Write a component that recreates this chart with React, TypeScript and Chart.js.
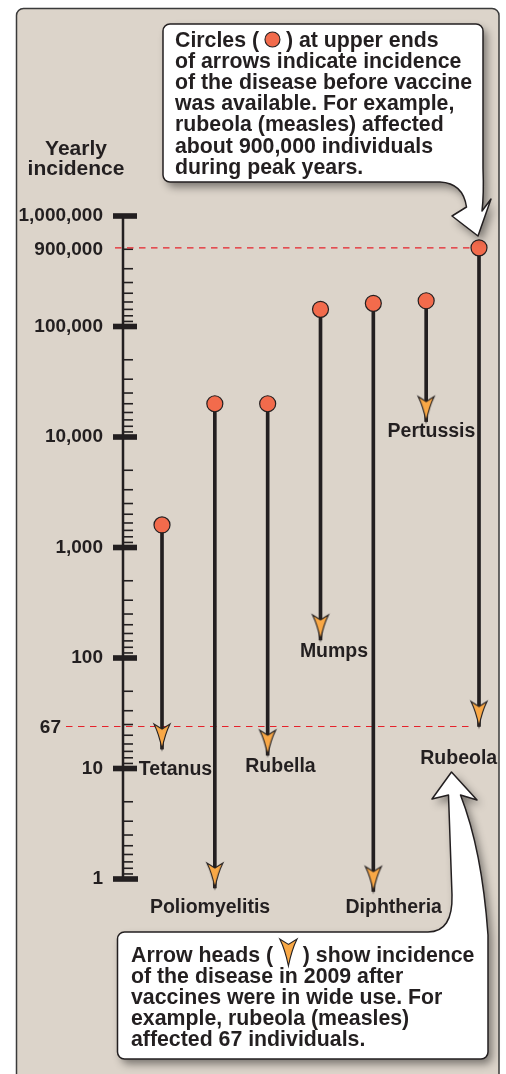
import React, { useEffect, useRef } from 'react';
import { Chart, registerables } from 'chart.js';

Chart.register(...registerables);

// ---------------- data ----------------
const diseases = ['Tetanus', 'Poliomyelitis', 'Rubella', 'Mumps', 'Diphtheria', 'Pertussis', 'Rubeola'];
const beforeVaccine = [1600, 20000, 20000, 143000, 162000, 171000, 515000];
const in2009 = [15, 0.83, 13.2, 146, 0.77, 13800, 24];
const majorTickValues = [1, 10, 100, 1000, 10000, 100000, 1000000];
const majorTickLabels = ['1', '10', '100', '1,000', '10,000', '100,000', '1,000,000'];
const minorTickDivisors = [2, 3, 4, 5, 6, 7, 8, 9];
const rubeolaMarkLabels = ['900,000', '67'];
const axisTitleLines = ['Yearly', 'incidence'];
const topNoteFirst = ['Circles (', ') at upper ends'];
const topNoteLines = [
  'of arrows indicate incidence',
  'of the disease before vaccine',
  'was available. For example,',
  'rubeola (measles) affected',
  'about 900,000 individuals',
  'during peak years.',
];
const bottomNoteFirst = ['Arrow heads (', ') show incidence'];
const bottomNoteLines = [
  'of the disease in 2009 after',
  'vaccines were in wide use. For',
  'example, rubeola (measles)',
  'affected 67 individuals.',
];

// ---------------- layout / style ----------------
const W = 506;
const H = 1074;
const Y_MIN = 0.5;
const Y_MAX = 1.5e6;
const PX_ONE = 879;
const PX_DECADE = 110.5;
const PAD_TOP = PX_ONE - Math.log10(Y_MAX) * PX_DECADE;
const PAD_BOTTOM = H - (PX_ONE - Math.log10(Y_MIN) * PX_DECADE);
const AXIS_X = 123;
const labelOffsets = [
  [13.5, 26],
  [-4.8, 24.8],
  [12.8, 16.5],
  [13.5, 16.7],
  [20.4, 21.2],
  [5.3, 15],
  [-20.3, 37.8],
];
const FONT = '"Liberation Sans", Arial, Helvetica, sans-serif';
const INK = '#231f20';
const PANEL = '#dcd4ca';
const CIRCLE = '#f26b4c';
const ARROW = '#f9a846';
const RED = '#e5222b';

function arrowHeadPath(ctx: any, x: number, tipY: number, s: number) {
  ctx.beginPath();
  ctx.moveTo(x, tipY - 20 * s);
  ctx.lineTo(x - 8 * s, tipY - 25 * s);
  ctx.quadraticCurveTo(x - 3 * s, tipY - 15 * s, x, tipY);
  ctx.quadraticCurveTo(x + 3 * s, tipY - 15 * s, x + 8 * s, tipY - 25 * s);
  ctx.closePath();
}

function makeArrowImage() {
  const c = document.createElement('canvas');
  c.width = 24;
  c.height = 64;
  const g = c.getContext('2d') as any;
  arrowHeadPath(g, 12, 32, 1);
  g.fillStyle = ARROW;
  g.fill();
  g.lineWidth = 1.1;
  g.lineJoin = 'miter';
  g.strokeStyle = INK;
  g.stroke();
  return c;
}

function topCalloutPath(ctx: any) {
  const L = 163, T = 24, R = 483, B = 182, r = 7;
  ctx.beginPath();
  ctx.moveTo(L + r, T);
  ctx.lineTo(R - r, T);
  ctx.arcTo(R, T, R, T + r, r);
  ctx.lineTo(R, 168);
  ctx.quadraticCurveTo(484, 195, 482, 211);
  ctx.lineTo(491, 199);
  ctx.lineTo(478, 236);
  ctx.lineTo(452, 216);
  ctx.lineTo(466.5, 207);
  ctx.quadraticCurveTo(463, 183, 440, B);
  ctx.lineTo(L + r, B);
  ctx.arcTo(L, B, L, B - r, r);
  ctx.lineTo(L, T + r);
  ctx.arcTo(L, T, L + r, T, r);
  ctx.closePath();
}

function bottomCalloutPath(ctx: any) {
  const L = 117.5, T = 932, R = 488, B = 1059, r = 7;
  ctx.beginPath();
  ctx.moveTo(L + r, T);
  ctx.lineTo(428, T);
  ctx.quadraticCurveTo(453, T, 452, 895);
  ctx.lineTo(448.5, 795);
  ctx.lineTo(432, 799);
  ctx.lineTo(451.5, 772);
  ctx.lineTo(477, 800);
  ctx.lineTo(460.5, 795);
  ctx.quadraticCurveTo(482, 850, R, 935);
  ctx.lineTo(R, B - r);
  ctx.arcTo(R, B, R - r, B, r);
  ctx.lineTo(L + r, B);
  ctx.arcTo(L, B, L, B - r, r);
  ctx.lineTo(L, T + r);
  ctx.arcTo(L, T, L + r, T, r);
  ctx.closePath();
}

function drawCallout(ctx: any, pathFn: (c: any) => void) {
  ctx.save();
  pathFn(ctx);
  ctx.shadowColor = 'rgba(0,0,0,0.45)';
  ctx.shadowBlur = 9;
  ctx.shadowOffsetX = 4;
  ctx.shadowOffsetY = 5;
  ctx.fillStyle = '#ffffff';
  ctx.fill();
  ctx.restore();
  ctx.save();
  pathFn(ctx);
  ctx.lineWidth = 1.5;
  ctx.strokeStyle = INK;
  ctx.lineJoin = 'round';
  ctx.stroke();
  ctx.restore();
}

const figurePlugin = {
  id: 'vaccineFigure',
  beforeDraw(chart: any) {
    const ctx = chart.ctx;
    const ys = chart.scales.y;
    const xs = chart.scales.x;
    ctx.save();
    ctx.fillStyle = '#ffffff';
    ctx.fillRect(0, 0, chart.width, chart.height);
    // panel
    ctx.beginPath();
    ctx.roundRect(16.5, 8.5, 482.5, 1100, 7);
    ctx.fillStyle = PANEL;
    ctx.fill();
    ctx.lineWidth = 1.5;
    ctx.strokeStyle = '#3a3a3a';
    ctx.stroke();

    // axis title
    ctx.fillStyle = INK;
    ctx.font = `bold 21px ${FONT}`;
    ctx.textAlign = 'center';
    ctx.textBaseline = 'alphabetic';
    ctx.fillText(axisTitleLines[0], 76, 155);
    ctx.fillText(axisTitleLines[1], 76, 174.5);

    // ruler
    const yTop = ys.getPixelForValue(majorTickValues[majorTickValues.length - 1]);
    const yBot = ys.getPixelForValue(majorTickValues[0]);
    ctx.strokeStyle = INK;
    ctx.lineWidth = 2.5;
    ctx.beginPath();
    ctx.moveTo(AXIS_X, yTop);
    ctx.lineTo(AXIS_X, yBot);
    ctx.stroke();
    ctx.lineWidth = 1.6;
    majorTickValues.forEach((v, i) => {
      if (i === majorTickValues.length - 1) return;
      minorTickDivisors.forEach((k) => {
        const py = ys.getPixelForValue((v * 10) / k);
        ctx.beginPath();
        ctx.moveTo(AXIS_X, py);
        ctx.lineTo(AXIS_X + 10, py);
        ctx.stroke();
      });
    });
    ctx.font = `bold 19px ${FONT}`;
    ctx.textAlign = 'right';
    majorTickValues.forEach((v, i) => {
      const py = ys.getPixelForValue(v);
      ctx.fillStyle = INK;
      ctx.fillRect(AXIS_X - 10, py - 2.8, i === 0 ? 25 : 24, 5.6);
      ctx.fillText(majorTickLabels[i], 103, py - 1.5 + 6.8);
    });

    // rubeola reference lines
    const last = diseases.length - 1;
    const rx = xs.getPixelForValue(last);
    const yBefore = ys.getPixelForValue(beforeVaccine[last]);
    const yAfter = ys.getPixelForValue(in2009[last]);
    ctx.fillText(rubeolaMarkLabels[0], 103, yBefore + 6.8);
    ctx.fillText(rubeolaMarkLabels[1], 61, yAfter + 6.8);
    ctx.strokeStyle = RED;
    ctx.lineWidth = 1.2;
    ctx.setLineDash([6.5, 5.5]);
    ctx.beginPath();
    ctx.moveTo(115, yBefore);
    ctx.lineTo(rx - 9, yBefore);
    ctx.moveTo(66, yAfter);
    ctx.lineTo(rx - 9, yAfter);
    ctx.stroke();
    ctx.setLineDash([]);
    ctx.restore();
  },
  afterDatasetsDraw(chart: any) {
    const ctx = chart.ctx;
    const ys = chart.scales.y;
    const xs = chart.scales.x;
    ctx.save();
    ctx.fillStyle = INK;
    ctx.font = `bold 19.5px ${FONT}`;
    ctx.textAlign = 'center';
    ctx.textBaseline = 'alphabetic';
    diseases.forEach((name, i) => {
      const px = xs.getPixelForValue(i);
      const py = ys.getPixelForValue(in2009[i]);
      ctx.fillText(name, px + labelOffsets[i][0], py + labelOffsets[i][1]);
    });
    ctx.restore();
  },
  afterDraw(chart: any) {
    const ctx = chart.ctx;
    drawCallout(ctx, topCalloutPath);
    drawCallout(ctx, bottomCalloutPath);
    ctx.save();
    ctx.fillStyle = INK;
    ctx.font = `bold 21.3px ${FONT}`;
    ctx.textAlign = 'left';
    ctx.textBaseline = 'alphabetic';
    const lh = 21.1;
    // top note
    let x = 175;
    let b = 47;
    ctx.fillText(topNoteFirst[0], x, b);
    x += ctx.measureText(topNoteFirst[0] + ' ').width;
    ctx.beginPath();
    ctx.arc(x + 7.5, b - 7.5, 7.5, 0, Math.PI * 2);
    ctx.fillStyle = CIRCLE;
    ctx.fill();
    ctx.lineWidth = 1.1;
    ctx.strokeStyle = INK;
    ctx.stroke();
    ctx.fillStyle = INK;
    ctx.fillText(' ' + topNoteFirst[1], x + 15, b);
    topNoteLines.forEach((line, i) => ctx.fillText(line, 175, b + lh * (i + 1)));
    // bottom note
    x = 131;
    b = 962;
    ctx.fillText(bottomNoteFirst[0], x, b);
    x += ctx.measureText(bottomNoteFirst[0] + ' ').width + 1;
    arrowHeadPath(ctx, x + 8.5, b + 4, 1.08);
    ctx.fillStyle = ARROW;
    ctx.fill();
    ctx.lineWidth = 1.1;
    ctx.strokeStyle = INK;
    ctx.stroke();
    ctx.fillStyle = INK;
    ctx.fillText(' ' + bottomNoteFirst[1], x + 17, b);
    bottomNoteLines.forEach((line, i) => ctx.fillText(line, 131, b + lh * (i + 1)));
    ctx.restore();
  },
};

export default function App() {
  const ref = useRef<HTMLCanvasElement | null>(null);
  useEffect(() => {
    const canvas = ref.current;
    if (!canvas) return;
    const arrowImg = makeArrowImage();
    const chart = new Chart(canvas, {
      type: 'bar',
      data: {
        labels: diseases,
        datasets: [
          {
            type: 'line',
            label: 'Before vaccine',
            data: beforeVaccine,
            showLine: false,
            pointStyle: 'circle',
            pointRadius: 8,
            pointBackgroundColor: CIRCLE,
            pointBorderColor: INK,
            pointBorderWidth: 1.2,
            order: 0,
            clip: false,
          } as any,
          {
            type: 'line',
            label: '2009',
            data: in2009,
            showLine: false,
            pointStyle: arrowImg,
            pointRadius: 8,
            order: 1,
            clip: false,
          } as any,
          {
            type: 'bar',
            label: 'Decline',
            data: diseases.map((_, i) => [in2009[i], beforeVaccine[i]]),
            backgroundColor: INK,
            barThickness: 3,
            order: 2,
            clip: false,
          } as any,
        ],
      },
      options: {
        responsive: false,
        animation: false,
        events: [],
        layout: { padding: { left: 162, right: 27, top: PAD_TOP, bottom: PAD_BOTTOM } },
        plugins: { legend: { display: false }, tooltip: { enabled: false } },
        scales: {
          x: { display: false, offset: false, grid: { offset: false } },
          y: { type: 'logarithmic', display: false, min: Y_MIN, max: Y_MAX, bounds: 'data' },
        },
      } as any,
      plugins: [figurePlugin],
    });
    return () => chart.destroy();
  }, []);
  return (
    <div style={{ position: 'fixed', left: 0, top: 0, width: W, height: H, background: '#fff' }}>
      <canvas ref={ref} width={W} height={H} style={{ display: 'block' }} />
    </div>
  );
}
